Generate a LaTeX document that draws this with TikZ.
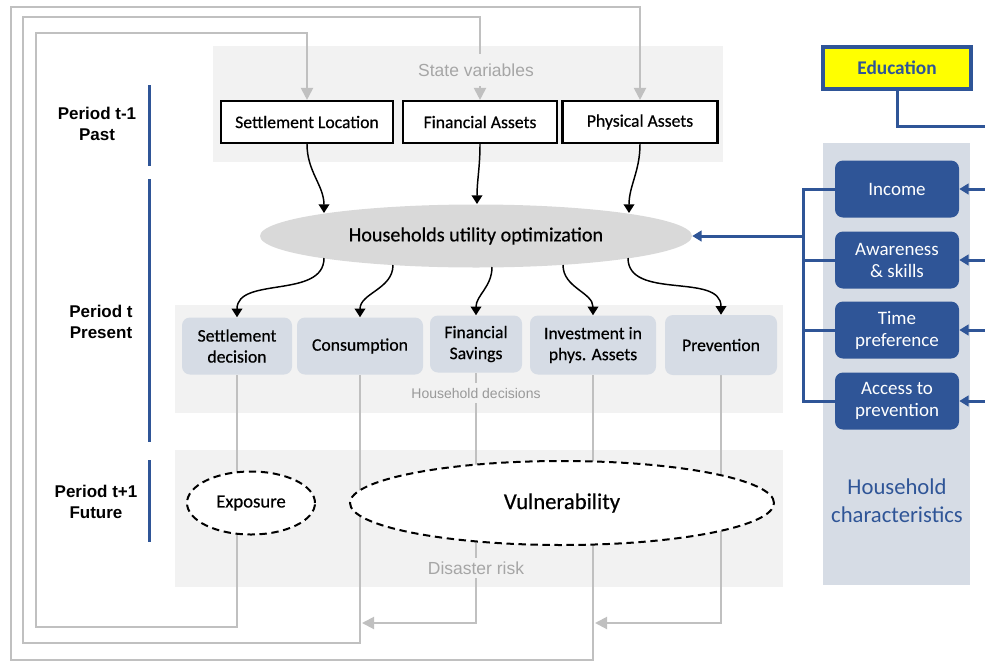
\documentclass[tikz,border=0pt]{standalone}
\usepackage{fontspec}
\setmainfont{Carlito}
\newfontfamily\arialf{Liberation Sans}
\newfontfamily\darkcal{Carlito}[FakeBold=0.5]
\usetikzlibrary{arrows.meta,shapes.geometric}

\definecolor{hhblue}{HTML}{2F5597}
\definecolor{panelgray}{HTML}{F2F2F2}
\definecolor{decfill}{HTML}{D6DCE5}
\definecolor{ellgray}{HTML}{D9D9D9}
\definecolor{loopgray}{HTML}{C0C0C0}
\definecolor{labgray}{HTML}{A6A6A6}
\definecolor{smallgray}{HTML}{999999}
\definecolor{eduyellow}{HTML}{FFFF00}

\newcommand\fsz[2]{\fontsize{#1}{#2}\selectfont}

\pgfdeclarelayer{panels}
\pgfdeclarelayer{wires}
\pgfsetlayers{panels,wires,main}

\begin{document}
\begin{tikzpicture}[x=0.75pt,y=-0.75pt,
  statebox/.style={draw=black, line width=1.6pt, fill=white, inner sep=0pt,
    minimum height=31.5pt, font=\darkcal\fsz{13.25}{15}},
  decbox/.style={fill=decfill, rounded corners=6pt, inner sep=0pt, align=center,
    font=\darkcal\fsz{13.25}{15.75}},
  charbox/.style={fill=hhblue, rounded corners=6pt, inner sep=0pt, align=center,
    text=white, font=\fsz{14.25}{16.5}, minimum width=93pt, minimum height=42.75pt},
  riskell/.style={ellipse, draw=black, line width=1.5pt, dash pattern=on 5.5pt off 3.5pt,
    fill=white, inner sep=0pt},
  periodlabel/.style={align=center, font=\arialf\bfseries\fsz{12.75}{16}},
  panellabel/.style={fill=panelgray, text=labgray, inner xsep=2pt,
    font=\arialf\fsz{13.1}{15}},
  loopline/.style={draw=loopgray, line width=1.5pt},
  looparrow/.style={loopline, -{Triangle[width=9pt,length=9pt]}},
  flow/.style={draw=black, line width=1.1pt, -{Triangle[width=8pt,length=6.5pt]}},
  bluel/.style={draw=hhblue, line width=2.25pt},
  bluearr/.style={bluel, -{Triangle[width=8pt,length=7pt]}},
  periodbar/.style={draw=hhblue, line width=2.25pt}
]
\useasboundingbox (0,0) rectangle (985,661);

% grey panels behind the three rows and the characteristics column
\begin{pgfonlayer}{panels}
  \fill[panelgray] (213,46) rectangle (723,162);
  \fill[panelgray] (175,305) rectangle (783,413);
  \fill[panelgray] (175,450) rectangle (783,587);
  \fill[decfill] (823,143) rectangle (970,585);
\end{pgfonlayer}

% period labels
\node[periodlabel] (p1) at (97,124) {Period t-1\\Past};
\node[periodlabel] (p2) at (101,322) {Period t\\Present};
\node[periodlabel] (p3) at (96,502) {Period t+1\\Future};
\draw[periodbar] (149,85) -- (149,166);
\draw[periodbar] (149,179) -- (149,442);
\draw[periodbar] (149,460) -- (149,542);

% state variables
\node[panellabel, inner ysep=7pt] (stv) at (476,70) {State variables};
\node[statebox, minimum width=129pt] (sl) at (307,122) {Settlement Location};
\node[statebox, minimum width=115.5pt] (fa) at (480,122) {Financial Assets};
\node[statebox, minimum width=116.25pt] (pa) at (640,122) {Physical Assets};

% optimisation
\node[ellipse, fill=ellgray, inner sep=0pt, minimum width=324pt, minimum height=47.25pt,
  font=\darkcal\fsz{15.1}{17}] (hu) at (476,236) {Households utility optimization};
\coordinate (hut1) at (324,213);
\coordinate (hut2) at (477,204);
\coordinate (hut3) at (629,213);
\coordinate (hub1) at (324,258);
\coordinate (hub2) at (393,265);
\coordinate (hub3) at (492,267);
\coordinate (hub4) at (563,265);
\coordinate (hub5) at (628,258);

% household decisions
\node[panellabel, text=smallgray, inner ysep=4pt, font=\arialf\fsz{10.5}{12}] (hdl) at (476,393) {Household decisions};
\node[decbox, minimum width=82.5pt, minimum height=42.75pt] (sd) at (237,346) {Settlement\\decision};
\node[decbox, minimum width=94.5pt, minimum height=42.75pt] (cons) at (360,346) {Consumption};
\node[decbox, minimum width=69pt, minimum height=42.75pt] (fs) at (476,344) {Financial\\Savings};
\node[decbox, minimum width=94.5pt, minimum height=44.25pt] (inv) at (593,345) {Investment in\\phys. Assets};
\node[decbox, minimum width=84pt, minimum height=45pt] (prev) at (721,345) {Prevention};

% disaster risk
\node[panellabel, inner ysep=3pt] (drl) at (476,568) {Disaster risk};
\node[riskell, minimum width=96pt, minimum height=47.25pt, font=\darkcal\fsz{14}{16}] (expo) at (251,503) {Exposure};
\node[riskell, minimum width=318pt, minimum height=63pt, font=\darkcal\fsz{17}{20}] (vuln) at (562,503) {Vulnerability};

% feedback from decisions to next period's state
\begin{pgfonlayer}{wires}
  \coordinate (la1) at (36,627);  \coordinate (lb1) at (36,33);
  \coordinate (la2) at (23,643);  \coordinate (lb2) at (23,17);
  \coordinate (la3) at (11,659.5);\coordinate (lb3) at (11,7);
  \coordinate (j2) at (362,623);
  \coordinate (j3) at (595,623);
  \draw[looparrow] (sd.south) |- (la1) -- (lb1) -| (sl.north);
  \draw[looparrow] (cons.south) |- (la2) -- (lb2) -| (fa.north);
  \draw[looparrow] (inv.south) |- (la3) -- (lb3) -| (pa.north);
  \draw[looparrow] (fs.south) |- (j2);
  \draw[looparrow] (prev.south) |- (j3);
\end{pgfonlayer}

% state -> optimisation -> decisions
\draw[flow] (sl.south) to[out=-90,in=90] (hut1);
\draw[flow] (fa.south) to[out=-90,in=90] (hut2);
\draw[flow] (pa.south) to[out=-90,in=90] (hut3);
\draw[flow] (hub1) to[out=-90,in=90] (sd.north);
\draw[flow] (hub2) to[out=-90,in=90] (cons.north);
\draw[flow] (hub3) to[out=-90,in=90] (fs.north);
\draw[flow] (hub4) to[out=-90,in=90] (inv.north);
\draw[flow] (hub5) to[out=-90,in=90] (prev.north);

% education and household characteristics
\node[draw=hhblue, line width=3pt, fill=eduyellow, text=hhblue, inner sep=0pt,
  minimum width=111pt, minimum height=31.5pt, font=\bfseries\fsz{14.5}{16}] (edu) at (897,68) {Education};
\coordinate (eduout) at (985,126);
\draw[bluel] (edu.south) |- (eduout);

\node[charbox] (inc) at (897,189) {Income};
\node[charbox] (aw) at (897,260) {Awareness\\\& skills};
\node[charbox] (tp) at (897,330) {Time\\preference};
\node[charbox] (acc) at (897,401) {Access to\\prevention};
\node[text=hhblue, align=center, font=\fsz{17}{21}] (hcl) at (897,501) {Household\\characteristics};

\coordinate (rin1) at (985,189);
\coordinate (rin2) at (985,260);
\coordinate (rin3) at (985,330);
\coordinate (rin4) at (985,401);
\draw[bluearr] (rin1) -- (inc.east);
\draw[bluearr] (rin2) -- (aw.east);
\draw[bluearr] (rin3) -- (tp.east);
\draw[bluearr] (rin4) -- (acc.east);

\coordinate (brx) at (803,236);
\draw[bluel] (inc.west) -| (acc.west -| brx) -- (acc.west);
\draw[bluel] (aw.west) -- (aw.west -| brx);
\draw[bluel] (tp.west) -- (tp.west -| brx);
\draw[bluearr] (brx) -- (hu.east);
\end{tikzpicture}
\end{document}
